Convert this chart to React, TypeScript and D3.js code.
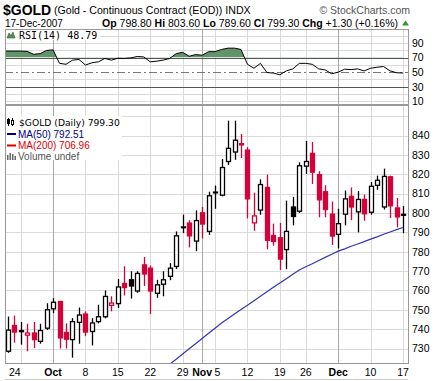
import React from 'react';
import * as d3 from 'd3';

const dates = [
  '2007-09-19','2007-09-20','2007-09-21','2007-09-24','2007-09-25','2007-09-26','2007-09-27','2007-09-28',
  '2007-10-01','2007-10-02','2007-10-03','2007-10-04','2007-10-05',
  '2007-10-08','2007-10-09','2007-10-10','2007-10-11','2007-10-12',
  '2007-10-15','2007-10-16','2007-10-17','2007-10-18','2007-10-19',
  '2007-10-22','2007-10-23','2007-10-24','2007-10-25','2007-10-26',
  '2007-10-29','2007-10-30','2007-10-31','2007-11-01','2007-11-02',
  '2007-11-05','2007-11-06','2007-11-07','2007-11-08','2007-11-09',
  '2007-11-12','2007-11-13','2007-11-14','2007-11-15','2007-11-16',
  '2007-11-19','2007-11-20','2007-11-21','2007-11-23',
  '2007-11-26','2007-11-27','2007-11-28','2007-11-29','2007-11-30',
  '2007-12-03','2007-12-04','2007-12-05','2007-12-06','2007-12-07',
  '2007-12-10','2007-12-11','2007-12-12','2007-12-13','2007-12-14',
  '2007-12-17'
];

const opens = [724, 728.6, 741.9, 739.2, 736.9, 738, 733.7, 740.5, 750.5, 754.3, 738.3, 734.6, 743.5, 747.8, 738.8, 743.9, 746.4, 752.3, 753.2, 763.6, 765.5, 759.7, 773.2, 771.5, 758.5, 763.2, 767.3, 772.4, 792.4, 794.8, 785.5, 800.1, 790.5, 810.4, 809.2, 826.6, 831.5, 835.8, 832.5, 794.9, 801.5, 813.2, 788.4, 787.2, 781.1, 803.1, 800.9, 824.2, 830.8, 819.8, 811, 799.4, 789, 799.4, 808.6, 800.6, 807, 800.4, 814.3, 803.1, 818.7, 802.6, 798.8];
const highs = [731, 746.5, 747, 743.7, 742.8, 743.7, 742.8, 753.4, 756, 754.5, 743, 745.7, 751.2, 749.2, 745.7, 752.6, 760, 757, 765.9, 772.5, 769.9, 769.9, 777.3, 772.9, 765.5, 769.9, 774.1, 790.5, 799.2, 796.3, 801.4, 803.1, 811, 814.2, 827.9, 847.7, 847.7, 840.8, 834, 810.5, 817.4, 819.8, 794.5, 794.9, 806.4, 808.3, 826.2, 837.2, 836.7, 821.6, 814.3, 805.9, 802.2, 811.6, 813.2, 811.4, 809.5, 816, 819.3, 822.9, 819.3, 807.8, 803.6];
const lows = [721, 727.8, 733, 732, 728.6, 730.2, 732.5, 739.5, 748.3, 730, 730, 725.3, 732.5, 736.4, 731.6, 743, 745.6, 749.2, 750.9, 757.4, 755.8, 758.8, 762.3, 747.8, 756.2, 757, 765.3, 771.1, 789.6, 782.2, 780.3, 786.9, 788.7, 802.2, 808.6, 824.8, 827.5, 828.4, 797.2, 790.8, 799.1, 781.3, 783.1, 770.6, 771, 793.6, 800, 820.2, 815, 797.8, 797.8, 783.5, 781.7, 793.6, 796.3, 790, 796, 799.1, 812, 801.8, 797.4, 792.6, 789.6];
const closes = [728, 739.5, 738.5, 738.7, 738, 734.6, 739.3, 750, 753.9, 735.5, 734.8, 743.9, 747.3, 738.5, 743.2, 746.4, 756.9, 753.5, 761.8, 761.5, 762.3, 768.8, 768.5, 759.7, 762.9, 765.5, 771.5, 788.2, 792.8, 788.2, 796.1, 794.3, 808.9, 810.8, 823.5, 833.4, 837.6, 835.2, 807.3, 798.5, 814.7, 785.9, 785.3, 776.2, 790.5, 798.2, 824.4, 826.6, 821.1, 806.8, 801.8, 788.1, 794.5, 807.3, 803.1, 807, 799.6, 813.8, 816.9, 818.9, 803.7, 798, 799.3];

const ma50 = [
  null, null, null, null, null, null, null, null, null, null, null, null,
  null, null, null, null, null, null, null, null, null, null, null, null,
  716.6, 719.3, 721.9, 724.5, 727.2, 729.9, 732.5, 735.2, 737.9, 740.5, 743.2, 745.5, 747.8, 750.1, 752.4, 754.7,
  757, 759.3, 761.6, 763.9, 766.1, 768.4, 770.6, 772.2, 773.8, 775.5, 777.1, 778.7, 780.3, 781.5, 782.8, 784,
  785.2, 786.5, 787.7, 789, 790.2, 791.4, 792.5
];

const rsi14 = [78.8, 78.8, 78.8, 78.8, 78.4, 74.4, 75.3, 79.7, 80.4, 62, 60.7, 66.4, 67.3, 59.7, 62.8, 64.1, 68.7, 66.4, 69, 68.7, 69.5, 71.3, 70.8, 64.1, 65, 66.4, 68.7, 75.3, 77.1, 71.7, 74, 73.1, 78, 78, 81, 82.8, 82.8, 81, 60.7, 55.3, 62, 49.5, 48.7, 46.4, 51.7, 54.4, 62, 62, 60.7, 54.4, 53, 47.7, 50, 54, 53.5, 54.4, 51.7, 55.3, 56.7, 57.6, 51.7, 49.2, 48.79];

const priceTicks = [730, 740, 750, 760, 770, 780, 790, 800, 810, 820, 830, 840];
const priceGrid = [730, 740, 750, 760, 770, 780, 790, 800, 810, 820, 830, 840, 850];
const rsiTicks = [90, 70, 50, 30, 10];
const rsiGrid = [10, 20, 40, 60, 80, 90, 100];
const weekLines = ['2007-09-24','2007-10-08','2007-10-15','2007-10-22','2007-10-29','2007-11-05','2007-11-12','2007-11-19','2007-11-26','2007-12-10','2007-12-17'];
const monthLines = ['2007-10-01','2007-11-01','2007-12-03'];
const xLabelDates = ['2007-09-24','2007-10-01','2007-10-08','2007-10-15','2007-10-22','2007-10-29','2007-11-01','2007-11-05','2007-11-12','2007-11-19','2007-11-26','2007-12-03','2007-12-10','2007-12-17'];
const xLabelTexts = ['24','Oct','8','15','22','29','Nov','5','12','19','26','Dec','10','17'];

const RED = '#d6003a';
const GRID = '#dadada';
const MGRID = '#a9a9a9';

export default function App() {
  const L = 5, R = 408;
  const rsiTop = 29, rsiBot = 104, pTop = 105, pBot = 363;
  const x = d3.scalePoint<string>().domain(dates).range([1.2, 403]);
  const y = d3.scaleLinear().domain([722.52, 855.79]).range([pBot, pTop]);
  const ry = d3.scaleLinear().domain([6.4, 109]).range([rsiBot, rsiTop]);
  const xi = (i: number) => x(dates[i]) as number;

  const rsiLine = d3.line<number>().x((_, i) => xi(i)).y(d => ry(d));
  const rsiArea = d3.area<number>().x((_, i) => xi(i)).y0(ry(70)).y1(d => ry(d));
  const maLine = d3.line<number | null>().defined(d => d != null).x((_, i) => xi(i)).y(d => y(d as number));

  const font = "'Liberation Sans', Arial, sans-serif";
  const mono = "'DejaVu Sans Mono', monospace";
  const dv = "'DejaVu Sans', Verdana, sans-serif";

  return (
    <svg width={435} height={381} style={{ position: 'absolute', left: 0, top: 0, background: '#fff' }} xmlns="http://www.w3.org/2000/svg">
      <defs>
        <clipPath id="pclip"><rect x={L} y={pTop} width={R - L} height={pBot - pTop} /></clipPath>
        <clipPath id="rclip"><rect x={L} y={rsiTop} width={R - L} height={rsiBot - rsiTop} /></clipPath>
        <clipPath id="gclip"><rect x={L} y={rsiTop} width={R - L} height={ry(70) - rsiTop} /></clipPath>
      </defs>
      <rect x={0} y={0} width={435} height={381} fill="#fff" />

      {/* Header */}
      <text x={3} y={15} fontFamily={font} fontSize={14} fontWeight="bold" fill="#000">$GOLD</text>
      <text x={54} y={14} fontFamily={font} fontSize={10.6} fill="#000">(Gold - Continuous Contract (EOD)) INDX</text>
      <text x={410} y={14} fontFamily={font} fontSize={10.5} fill="#555" textAnchor="end">© StockCharts.com</text>
      <text x={5} y={26.5} fontFamily={font} fontSize={10} fill="#000">17-Dec-2007</text>
      <text x={398} y={26.5} fontFamily={font} fontSize={10.5} fill="#000" textAnchor="end">
        <tspan fontWeight="bold">Op</tspan> 798.80 <tspan fontWeight="bold">Hi</tspan> 803.60 <tspan fontWeight="bold">Lo</tspan> 789.60 <tspan fontWeight="bold">Cl</tspan> 799.30 <tspan fontWeight="bold">Chg</tspan> +1.30 (+0.16%)
      </text>
      <polygon points="402,25.5 409,25.5 405.5,20.5" fill="#2e9a2e" />

      {/* RSI panel */}
      <g clipPath="url(#rclip)">
        {rsiGrid.map(v => <line key={'rg' + v} x1={L} x2={R} y1={Math.round(ry(v)) + 0.5} y2={Math.round(ry(v)) + 0.5} stroke={GRID} />)}
        {weekLines.map(d => <line key={'rw' + d} x1={Math.round(x(d) as number) + 0.5} x2={Math.round(x(d) as number) + 0.5} y1={rsiTop} y2={rsiBot} stroke={GRID} />)}
        {monthLines.map(d => <line key={'rm' + d} x1={Math.round(x(d) as number) + 0.5} x2={Math.round(x(d) as number) + 0.5} y1={rsiTop} y2={rsiBot} stroke={MGRID} />)}
        <path d={rsiArea(rsi14) || ''} fill="#62946a" clipPath="url(#gclip)" />
        <line x1={L} x2={R} y1={Math.round(ry(70)) + 0.5} y2={Math.round(ry(70)) + 0.5} stroke="#555" />
        <line x1={L} x2={R} y1={Math.round(ry(30)) + 0.5} y2={Math.round(ry(30)) + 0.5} stroke="#555" />
        <line x1={L} x2={R} y1={Math.round(ry(50)) + 0.5} y2={Math.round(ry(50)) + 0.5} stroke="#777" strokeDasharray="8,3,2,3" />
        <path d={rsiLine(rsi14) || ''} fill="none" stroke="#000" strokeWidth={1} />
      </g>
      <rect x={L + 0.5} y={rsiTop + 0.5} width={R - L} height={rsiBot - rsiTop} fill="none" stroke="#999" />
      <rect x={6} y={30} width={94} height={10} fill="#fff" />
      <path d="M7,38 L9,33 L11,35.5 L13,32 L15,38 Z" fill="#5a8f5a" stroke="#2f5f2f" strokeWidth={0.6} />
      <text x={19} y={38.5} fontFamily={mono} fontSize={10} fill="#000">RSI(14) 48.79</text>
      {rsiTicks.map(v => (
        <text key={'rt' + v} x={412} y={ry(v) + 3.8} fontFamily={font} fontSize={10.5} fill="#000">{v}</text>
      ))}

      {/* Price panel */}
      <g clipPath="url(#pclip)">
        {priceGrid.map(v => <line key={'pg' + v} x1={L} x2={R} y1={Math.round(y(v)) + 0.5} y2={Math.round(y(v)) + 0.5} stroke={GRID} />)}
        {weekLines.map(d => <line key={'pw' + d} x1={Math.round(x(d) as number) + 0.5} x2={Math.round(x(d) as number) + 0.5} y1={pTop} y2={pBot} stroke={GRID} />)}
        {monthLines.map(d => <line key={'pm' + d} x1={Math.round(x(d) as number) + 0.5} x2={Math.round(x(d) as number) + 0.5} y1={pTop} y2={pBot} stroke={MGRID} />)}
        <rect x={6} y={116} width={116} height={44} fill="#fff" />
        {dates.map((d, i) => {
          const o = opens[i], c = closes[i], h = highs[i], l = lows[i];
          const prev = i > 0 ? closes[i - 1] : o;
          const color = c >= prev ? '#000' : RED;
          const hollow = c >= o;
          const cx = Math.round(xi(i)) + 0.5;
          const top = y(Math.max(o, c)), bot = y(Math.min(o, c));
          return (
            <g key={'c' + d}>
              <line x1={cx} x2={cx} y1={y(h)} y2={top} stroke={color} strokeWidth={1.3} />
              <line x1={cx} x2={cx} y1={bot} y2={y(l)} stroke={color} strokeWidth={1.3} />
              <rect x={cx - 2} y={top} width={4} height={Math.max(bot - top, 0.3)} fill={hollow ? '#fff' : color} stroke={color} strokeWidth={1.3} />
            </g>
          );
        })}
        <path d={maLine(ma50) || ''} fill="none" stroke="#3434b8" strokeWidth={1.2} />
      </g>
      <rect x={L + 0.5} y={pTop + 0.5} width={R - L} height={pBot - pTop} fill="none" stroke="#999" />

      {/* Legend */}
      <g>
        <g stroke="#000" strokeWidth={1}>
          <line x1={8.5} x2={8.5} y1={118} y2={126} />
          <rect x={7.5} y={119.5} width={2} height={4} fill="#000" />
          <line x1={12.5} x2={12.5} y1={118} y2={126} />
          <rect x={11.5} y={120.5} width={2} height={4} fill="#fff" />
        </g>
        <text x={19} y={126} fontFamily={dv} fontSize={9.2} fill="#000">$GOLD (Daily) 799.30</text>
        <rect x={7} y={133} width={9} height={2} fill="#000080" />
        <text x={18} y={137.5} fontFamily={font} fontSize={10} fill="#000080">MA(50) 792.51</text>
        <rect x={7} y={144.5} width={9} height={2} fill="#e00000" />
        <text x={18} y={149} fontFamily={font} fontSize={10} fill="#e00000">MA(200) 706.96</text>
        <g fill="#666">
          <rect x={7} y={155} width={1.5} height={5} />
          <rect x={9.5} y={153} width={1.5} height={7} />
          <rect x={12} y={154} width={1.5} height={6} />
          <rect x={14.5} y={156} width={1.5} height={4} />
        </g>
        <text x={18} y={160} fontFamily={font} fontSize={10} fill="#555">Volume undef</text>
      </g>

      {priceTicks.map(v => (
        <text key={'pt' + v} x={412} y={y(v) + 3.8} fontFamily={font} fontSize={10.5} fill="#000">{v}</text>
      ))}

      {/* X axis labels */}
      {xLabelDates.map((d, i) => {
        const t = xLabelTexts[i];
        const bold = isNaN(Number(t));
        const px = x(d) as number;
        const anchor = t === '5' ? 'start' : t === '24' ? 'end' : 'middle';
        return (
          <text key={'xl' + d} x={t === '5' ? px - 0.5 : px} y={376} fontFamily={font} fontSize={10.5}
            fontWeight={bold ? 'bold' : 'normal'} fill="#000" textAnchor={anchor}>{t}</text>
        );
      })}
      <line x1={L} x2={R} y1={379.5} y2={379.5} stroke="#ccc" />
    </svg>
  );
}
